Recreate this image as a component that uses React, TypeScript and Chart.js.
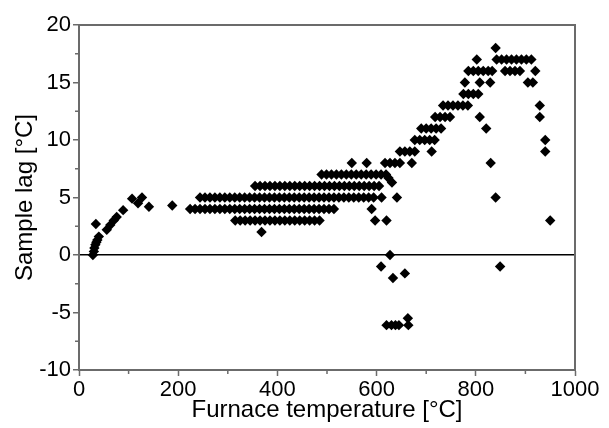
import React, { useEffect, useRef } from "react";
import { Chart, registerables } from "chart.js";

Chart.register(...registerables);

// Furnace temperatures [°C] logged for each sample-lag value [°C]
const lagM6Temps = [620, 630, 638, 645, 664];
const lag3Temps = [315, 325, 335, 345, 355, 365, 375, 385, 395, 405, 415, 425, 435, 445, 455, 465, 475, 485, 597, 620];
const lag2Temps = [368];
const lag4Temps = [224, 234, 244, 254, 264, 274, 284, 294, 304, 314, 324, 334, 344, 354, 364, 374, 384, 394, 404, 414, 424, 434, 444, 454, 464, 474, 484, 494, 504, 514, 590];
const lag5Temps = [244, 254, 264, 274, 284, 294, 304, 314, 324, 334, 344, 354, 364, 374, 384, 394, 404, 414, 424, 434, 444, 454, 464, 474, 484, 494, 504, 514, 524, 534, 544, 554, 564, 574, 584, 594, 610, 641, 840];
const lag6Temps = [355, 365, 375, 385, 395, 405, 415, 425, 435, 445, 455, 465, 475, 485, 495, 505, 515, 525, 535, 545, 555, 565, 575, 585, 595, 605];
const lag7Temps = [489, 499, 509, 519, 529, 539, 549, 559, 569, 579, 589, 599, 609, 619];
const lag8Temps = [550, 580, 617, 627, 637, 647, 671, 830];
const lag9Temps = [647, 657, 667, 677, 711, 940];
const lag10Temps = [677, 687, 697, 707, 717, 940];
const lag11Temps = [690, 700, 710, 720, 730, 821];
const lag12Temps = [718, 728, 738, 748, 808, 929];
const lag13Temps = [734, 744, 754, 764, 774, 784, 929];
const lag14Temps = [775, 785, 795, 805];
const lag15Temps = [778, 808, 829, 905, 915];
const lag16Temps = [785, 795, 805, 815, 825, 833, 859, 869, 879, 889, 920];
const lag17Temps = [802, 842, 852, 862, 872, 882, 892, 902, 912];
const lag18Temps = [840];

// Remaining individual readings
const otherTemps = [28, 30, 31, 33, 35, 37, 40, 34, 56, 63, 70, 76, 89, 107, 119, 127, 141, 188, 624, 631, 627, 609, 633, 657, 663, 849, 950];
const otherLags = [0.0, 0.3, 0.6, 0.9, 1.1, 1.3, 1.6, 2.7, 2.2, 2.6, 3.0, 3.3, 3.9, 4.9, 4.5, 5.0, 4.2, 4.3, 6.7, 6.3, 0, -1, -2, -1.6, -5.5, -1, 3];

const rowLags = [-6.1, 2, 3, 4, 5, 6, 7, 8, 9, 10, 11, 12, 13, 14, 15, 16, 17, 18];
const rowTemps = [lagM6Temps, lag2Temps, lag3Temps, lag4Temps, lag5Temps, lag6Temps, lag7Temps, lag8Temps, lag9Temps, lag10Temps, lag11Temps, lag12Temps, lag13Temps, lag14Temps, lag15Temps, lag16Temps, lag17Temps, lag18Temps];

const xMin = 0, xMax = 1000, xStep = 100, xLabelEvery = 200;
const yMin = -10, yMax = 20, yStep = 2.5, yLabelEvery = 5;

const AXIS = "#6b6b6b";
const FONT = "'Liberation Sans', Arial, sans-serif";

const framePlugin = {
  id: "frame",
  afterDraw(chart: any) {
    const { ctx, chartArea, scales } = chart;
    const { left, top, right, bottom } = chartArea;
    ctx.save();
    ctx.strokeStyle = AXIS;
    ctx.lineWidth = 2;
    ctx.beginPath();
    ctx.moveTo(left - 1, top);
    ctx.lineTo(right, top);
    ctx.lineTo(right, bottom + 1);
    ctx.stroke();
    // minor ticks (shorter)
    ctx.lineWidth = 1.5;
    ctx.beginPath();
    scales.x.ticks.forEach((t: any) => {
      if (t.value % xLabelEvery !== 0) {
        const px = scales.x.getPixelForValue(t.value);
        ctx.moveTo(px, bottom);
        ctx.lineTo(px, bottom + 4);
      }
    });
    scales.y.ticks.forEach((t: any) => {
      if (t.value % yLabelEvery !== 0) {
        const py = scales.y.getPixelForValue(t.value);
        ctx.moveTo(left, py);
        ctx.lineTo(left - 4, py);
      }
    });
    ctx.stroke();
    ctx.restore();
  },
};

export default function App() {
  const ref = useRef<HTMLCanvasElement | null>(null);
  useEffect(() => {
    if (!ref.current) return;
    const points: { x: number; y: number }[] = [];
    rowTemps.forEach((temps, i) => temps.forEach((t) => points.push({ x: t, y: rowLags[i] })));
    otherTemps.forEach((t, i) => points.push({ x: t, y: otherLags[i] }));

    const majorX = (c: any) => (c.tick && c.tick.value % xLabelEvery === 0 ? AXIS : "rgba(0,0,0,0)");
    const majorY = (c: any) => (c.tick && c.tick.value % yLabelEvery === 0 ? AXIS : "rgba(0,0,0,0)");

    const chart = new Chart(ref.current, {
      type: "scatter",
      data: {
        datasets: [
          {
            data: points,
            pointStyle: "rectRot",
            pointRadius: 5.2,
            pointBackgroundColor: "#000",
            pointBorderColor: "#000",
            pointBorderWidth: 0,
          },
        ],
      },
      options: {
        animation: false,
        responsive: true,
        maintainAspectRatio: false,
        layout: { padding: { top: 25, right: 34, left: 0, bottom: 0 } },
        plugins: { legend: { display: false }, tooltip: { enabled: false } },
        scales: {
          x: {
            type: "linear",
            min: xMin,
            max: xMax,
            afterFit: (s: any) => { s.height = 58; },
            border: { display: true, color: AXIS, width: 2 },
            grid: { drawOnChartArea: false, drawTicks: true, tickLength: 6, tickColor: majorX, tickWidth: 1.5 },
            ticks: {
              stepSize: xStep,
              autoSkip: false,
              maxRotation: 0,
              padding: 1,
              color: "#000",
              font: { family: FONT, size: 22 },
              callback: (v: any) => (Number(v) % xLabelEvery === 0 ? String(v) : ""),
            },
            title: {
              display: true,
              text: "Furnace temperature [°C]",
              color: "#000",
              font: { family: FONT, size: 24 },
              padding: { top: 0, bottom: 3 },
            },
          },
          y: {
            type: "linear",
            min: yMin,
            max: yMax,
            afterFit: (s: any) => { s.width = 79; },
            border: { display: true, color: AXIS, width: 2 },
            grid: {
              drawOnChartArea: true,
              drawTicks: true,
              tickLength: 6,
              tickColor: majorY,
              tickWidth: 1.5,
              color: (c: any) => (c.tick && c.tick.value === 0 ? "#000" : "rgba(0,0,0,0)"),
              lineWidth: 1.5,
            },
            ticks: {
              stepSize: yStep,
              autoSkip: false,
              padding: 2,
              color: "#000",
              font: { family: FONT, size: 22 },
              callback: (v: any) => (Number(v) % yLabelEvery === 0 ? String(v) : ""),
            },
            title: {
              display: true,
              text: "Sample lag [°C]",
              color: "#000",
              font: { family: FONT, size: 24 },
              padding: { top: 11, bottom: 0 },
            },
          },
        },
      },
      plugins: [framePlugin],
    });
    return () => chart.destroy();
  }, []);

  return (
    <div style={{ position: "fixed", left: 0, top: 0, width: 609, height: 428, background: "#fff" }}>
      <canvas ref={ref} />
    </div>
  );
}
